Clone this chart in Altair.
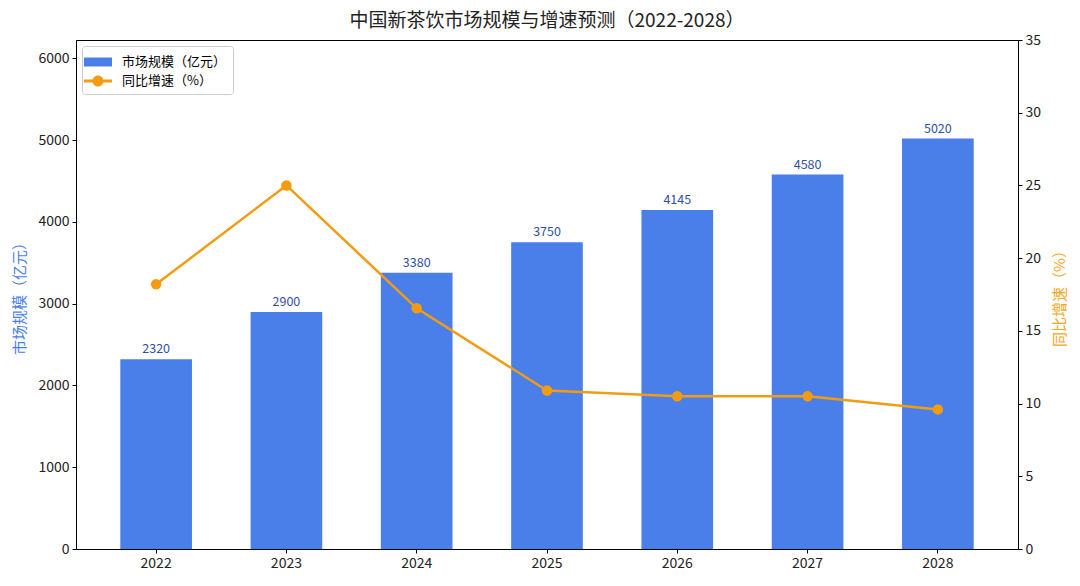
import altair as alt
import pandas as pd

years = ["2022", "2023", "2024", "2025", "2026", "2027", "2028"]
market_size = [2320, 2900, 3380, 3750, 4145, 4580, 5020]
growth_rate = [18.2, 25.0, 16.55, 10.9, 10.5, 10.5, 9.6]

bar_name = "市场规模（亿元）"
line_name = "同比增速（%）"

FONT = "Noto Sans CJK SC"
BLUE = "#4A7FEA"
ORANGE = "#F39C12"
LABEL_BLUE = "#2F4FA6"

df = pd.DataFrame({
    "year": years,
    "size": market_size,
    "growth": growth_rate,
    "series": line_name,
})

# legend symbols: wide box for bars, line with dot for the growth line
rect_path = "M-1.4,-0.45H1.4V0.45H-1.4Z"
line_dot_path = ("M-1.4,-0.14H1.4V0.14H-1.4Z "
                 "M0.55,0A0.55,0.55 0 1,1 -0.55,0A0.55,0.55 0 1,1 0.55,0Z")

x = alt.X(
    "year:N", title=None,
    scale=alt.Scale(paddingInner=0.45, paddingOuter=0.34),
    axis=alt.Axis(labelAngle=0, labelFont=FONT, labelFontSize=14,
                  tickSize=4, labelPadding=3, bandPosition=0.5),
)

y_left = alt.Y(
    "size:Q",
    scale=alt.Scale(domain=[0, 6225], nice=False),
    axis=alt.Axis(title=bar_name, orient="left", values=list(range(0, 7000, 1000)),
                  format="d", titleColor=BLUE, titleFont=FONT, titleFontSize=15,
                  titleFontWeight="normal", titlePadding=10,
                  labelFont=FONT, labelFontSize=14, tickSize=4, labelPadding=3),
)

y_right = alt.Y(
    "growth:Q",
    scale=alt.Scale(domain=[0, 35], nice=False),
    axis=alt.Axis(title=line_name, orient="right", values=list(range(0, 40, 5)),
                  titleColor="#F5A623", titleFont=FONT, titleFontSize=15,
                  titleFontWeight="normal", titlePadding=27, titleAngle=270,
                  labelFont=FONT, labelFontSize=14, tickSize=4, labelPadding=3),
)

bars = alt.Chart(df).mark_bar(color=BLUE).encode(x=x, y=y_left)

bar_labels = alt.Chart(df).mark_text(
    baseline="bottom", dy=-3, font=FONT, fontSize=12.5, color=LABEL_BLUE
).encode(x=x, y=y_left, text=alt.Text("size:Q", format="d"))

line = alt.Chart(df).mark_line(color=ORANGE, strokeWidth=2.5).encode(x=x, y=y_right)

dots = alt.Chart(df).mark_circle(color=ORANGE, size=110, opacity=1).encode(x=x, y=y_right)

# empty layer that only carries the combined legend
legend_layer = alt.Chart(df).transform_filter("datum.growth < 0").mark_point(
    filled=True, opacity=1
).encode(
    x=x, y=y_right,
    color=alt.Color("series:N", scale=alt.Scale(domain=[bar_name, line_name], range=[BLUE, ORANGE]),
                    legend=alt.Legend(title=None, orient="top-left", offset=6,
                                      strokeColor="#cccccc", cornerRadius=3, padding=6,
                                      fillColor="white", labelFont=FONT, labelFontSize=13,
                                      symbolSize=400, symbolOpacity=1, symbolStrokeWidth=0,
                                      labelOffset=14, rowPadding=2)),
    shape=alt.Shape("series:N", scale=alt.Scale(domain=[bar_name, line_name],
                                                 range=[rect_path, line_dot_path])),
)

left = alt.layer(bars, bar_labels)
right = alt.layer(line, dots, legend_layer)

chart = alt.layer(left, right).resolve_scale(y="independent").properties(
    width=942,
    height=509,
    title=alt.TitleParams("中国新茶饮市场规模与增速预测（2022-2028）", font=FONT, fontSize=19,
                          fontWeight="normal", color="#222222", anchor="middle", offset=2),
    padding={"left": 4, "top": 4, "right": 4, "bottom": 4},
).configure_view(stroke="black", strokeWidth=1).configure_axis(
    grid=False, domainColor="black", tickColor="black", labelColor="#222222"
)

chart.save("out.html", embed_options={"renderer": "svg", "actions": False})
